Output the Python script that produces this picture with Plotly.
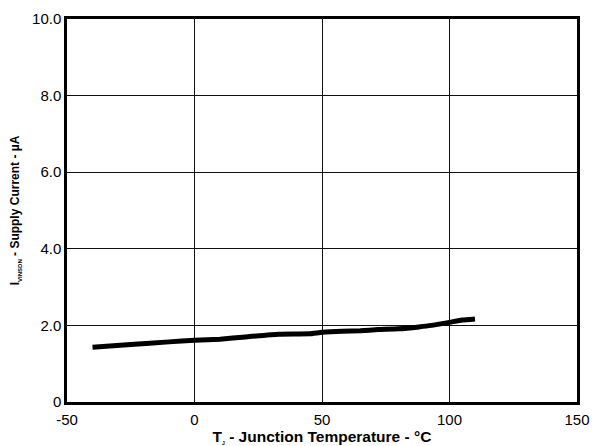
import plotly.graph_objects as go

temp_c = [-40, -25, -10, 0, 10, 20, 33, 45, 50, 58, 65, 72, 80, 88, 93, 100, 105, 110]
current_ua = [1.43, 1.50, 1.57, 1.61, 1.64, 1.70, 1.77, 1.78, 1.82, 1.85, 1.86, 1.89, 1.91, 1.96, 2.00, 2.08, 2.14, 2.17]

x_ticks = [-50, 0, 50, 100, 150]
x_tick_labels = ["-50", "0", "50", "100", "150"]
y_ticks = [0, 2, 4, 6, 8, 10]
y_tick_labels = ["0", "2.0", "4.0", "6.0", "8.0", "10.0"]

fig = go.Figure()
fig.add_trace(go.Scatter(x=temp_c, y=current_ua, mode="lines",
                         line=dict(color="black", width=5, shape="spline", smoothing=0.4),
                         showlegend=False))

font_family = "Liberation Sans, Arial, sans-serif"
fig.update_layout(
    template="none",
    width=593, height=446,
    margin=dict(l=67, r=16, t=19, b=44),
    paper_bgcolor="white", plot_bgcolor="white",
    font=dict(family=font_family, color="black", size=15),
    xaxis=dict(range=[-50, 150], tickvals=x_ticks, ticktext=x_tick_labels,
               automargin=False,
               showgrid=True, gridcolor="#111", gridwidth=1,
               showline=True, linecolor="black", linewidth=2.5, mirror=True,
               ticks="", zeroline=False, tickfont=dict(size=15), ticklabelstandoff=2,
               title=dict(text="<b>T<sub><span style='font-size:5px'>J</span></sub> - Junction Temperature - °C</b>",
                          font=dict(size=15.5), standoff=6)),
    yaxis=dict(range=[0, 10], tickvals=y_ticks, ticktext=y_tick_labels,
               automargin=False,
               showgrid=True, gridcolor="#111", gridwidth=1,
               showline=True, linecolor="black", linewidth=2.5, mirror=True,
               ticks="", zeroline=False, tickfont=dict(size=15),
               title=dict(text="<b>I<sub><span style='font-size:6px'>VINSDN</span></sub> - Supply Current - µA</b>",
                          font=dict(size=12), standoff=10)),
)

fig.write_html("out.html", config={"displayModeBar": False},
               post_script="document.body.style.margin='0px';document.body.style.overflow='hidden';")
